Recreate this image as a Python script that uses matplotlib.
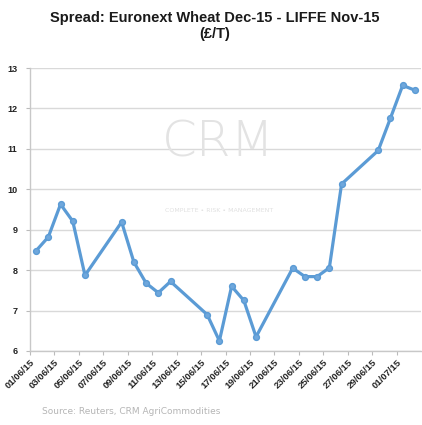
import matplotlib
matplotlib.use("Agg")
import matplotlib.pyplot as plt
import pandas as pd

dates = ["2015-06-01", "2015-06-02", "2015-06-03", "2015-06-04", "2015-06-05",
         "2015-06-08", "2015-06-09", "2015-06-10", "2015-06-11", "2015-06-12",
         "2015-06-15", "2015-06-16", "2015-06-17", "2015-06-18", "2015-06-19",
         "2015-06-22", "2015-06-23", "2015-06-24", "2015-06-25", "2015-06-26",
         "2015-06-29", "2015-06-30", "2015-07-01", "2015-07-02"]
values = [8.48, 8.82, 9.63, 9.21, 7.87,
          9.19, 8.2, 7.68, 7.44, 7.72,
          6.9, 6.25, 7.6, 7.25, 6.35,
          8.05, 7.84, 7.84, 8.06, 10.13,
          10.96, 11.76, 12.57, 12.45]
tick_dates = ["2015-06-01", "2015-06-03", "2015-06-05", "2015-06-07", "2015-06-09",
              "2015-06-11", "2015-06-13", "2015-06-15", "2015-06-17", "2015-06-19",
              "2015-06-21", "2015-06-23", "2015-06-25", "2015-06-27", "2015-06-29",
              "2015-07-01"]
tick_labels = ["01/06/15", "03/06/15", "05/06/15", "07/06/15", "09/06/15",
               "11/06/15", "13/06/15", "15/06/15", "17/06/15", "19/06/15",
               "21/06/15", "23/06/15", "25/06/15", "27/06/15", "29/06/15",
               "01/07/15"]
y_ticks = [6, 7, 8, 9, 10, 11, 12, 13]
title = "Spread: Euronext Wheat Dec-15 - LIFFE Nov-15\n(£/T)"
source = "Source: Reuters, CRM AgriCommodities"

narrow = ["Liberation Sans Narrow", "Liberation Sans", "DejaVu Sans"]

fig = plt.figure(figsize=(4.22, 4.25), dpi=100)
ax = fig.add_axes([30/422, 74/425, 391/422, 283/425])

x = pd.to_datetime(dates) + pd.Timedelta(hours=12)
ax.plot(x, values, color="#5b9bd5", lw=2.3, marker="o", ms=4.2,
        mfc="#6fa7dc", mec="#5b9bd5", zorder=3)

ax.set_xlim(pd.Timestamp("2015-06-01"), pd.Timestamp("2015-07-03"))
ax.set_ylim(6, 13)
ax.set_yticks(y_ticks)
ax.set_yticklabels([str(v) for v in y_ticks], fontsize=6.5, fontweight="bold",
                   color="#222222", family=narrow)
ax.set_xticks(pd.to_datetime(tick_dates))
ax.set_xticklabels(tick_labels, rotation=45, ha="right", rotation_mode="anchor",
                   fontsize=6.8, fontweight="bold", color="#222222", family=narrow)
ax.tick_params(axis="x", length=3, color="#bbbbbb", pad=2)
ax.tick_params(axis="y", length=3, color="#bbbbbb", pad=6)

ax.grid(axis="y", color="#d9d9d9", lw=1.0)
ax.set_axisbelow(True)
for s in ["top", "right"]:
    ax.spines[s].set_visible(False)
for s in ["left", "bottom"]:
    ax.spines[s].set_color("#c8c8c8")
    ax.spines[s].set_linewidth(1.0)

# faint watermark
fig.text(0.517, 0.665, "CRM", fontsize=36, color="#e3e3e3", ha="center", va="center",
         family=["DejaVu Sans"], fontweight="light", zorder=0)
fig.text(0.52, 0.505, "COMPLETE • RISK • MANAGEMENT", fontsize=4.5, color="#e0e0e0",
         ha="center", va="center", zorder=0)

fig.text(215/422, 1 - 26/425, title, ha="center", va="center", fontsize=10.5,
         fontweight="bold", family=narrow, color="#1a1a1a", linespacing=1.15)
fig.text(42/422, 1 - 412/425, source, ha="left", va="center", fontsize=6.5,
         color="#b5b5b5")

fig.savefig("out.png", dpi=100)
